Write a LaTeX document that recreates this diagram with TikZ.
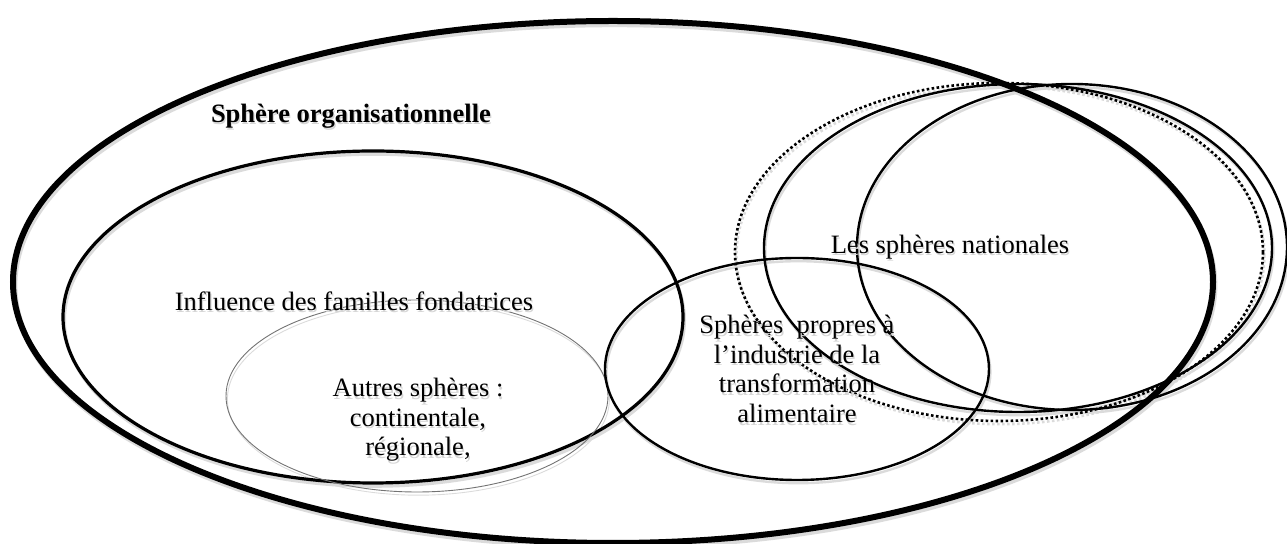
\documentclass[tikz,border=0pt]{standalone}
\usepackage{fontspec}
\setmainfont{Liberation Serif}
\begin{document}
\begin{tikzpicture}[x=0.5pt,y=-0.5pt,
  outer/.style={line width=3pt},
  inner/.style={line width=1.6pt},
  ring/.style={line width=1.2pt},
  dotring/.style={line width=1.3pt, dash pattern=on 1.3pt off 1.2pt},
  faint/.style={line width=0.45pt, draw=black!55},
  shadowpass/.style={draw=black!14, transform canvas={xshift=0.7pt,yshift=-1.6pt}},
  label/.style={font=\fontsize{13.25}{14.8}\selectfont, inner sep=0pt, align=center},
  labelshadow/.style={label, text=black!16, xshift=0.6pt, yshift=-1.3pt}]
\useasboundingbox (0,0) rectangle (1287,544);

% every outline, drawn once as a soft shadow and once in ink
\def\venncurves#1{%
  \draw[outer,#1]   (613,282) ellipse [x radius=600, y radius=261];
  \draw[inner,#1]   (373,317) ellipse [x radius=310, y radius=166];
  \draw[faint,#1]   (417,396) ellipse [x radius=191, y radius=96];
  \draw[ring,#1]    (797,369) ellipse [x radius=192, y radius=111];
  \draw[dotring,#1] (999,252) ellipse [x radius=264, y radius=169];
  \draw[ring,#1]    (1018,248) ellipse [x radius=254, y radius=164];
  \draw[ring,#1]    (1072,247) ellipse [x radius=215, y radius=163];
}
\venncurves{shadowpass}
\venncurves{}

% labels with their soft shadows
\node[labelshadow, font=\fontsize{13.25}{14.8}\selectfont\bfseries] (org-sh) at (351,116) {Sphère organisationnelle};
\node[label, font=\fontsize{13.25}{14.8}\selectfont\bfseries] (org) at (351,116) {Sphère organisationnelle};

\node[labelshadow] (fam-sh) at (354,301) {Influence des familles fondatrices};
\node[label] (fam) at (354,301) {Influence des familles fondatrices};

\node[labelshadow] (nat-sh) at (950,247) {Les sphères nationales};
\node[label] (nat) at (950,247) {Les sphères nationales};

\node[labelshadow] (autres-sh) at (418,420) {Autres sphères :\\continentale,\\régionale,};
\node[label] (autres) at (418,420) {Autres sphères :\\continentale,\\régionale,};

\node[labelshadow] (ind-sh) at (797,369) {Sphères\ \ propres à\\l’industrie de la\\transformation\\alimentaire};
\node[label] (ind) at (797,369) {Sphères\ \ propres à\\l’industrie de la\\transformation\\alimentaire};
\end{tikzpicture}
\end{document}
